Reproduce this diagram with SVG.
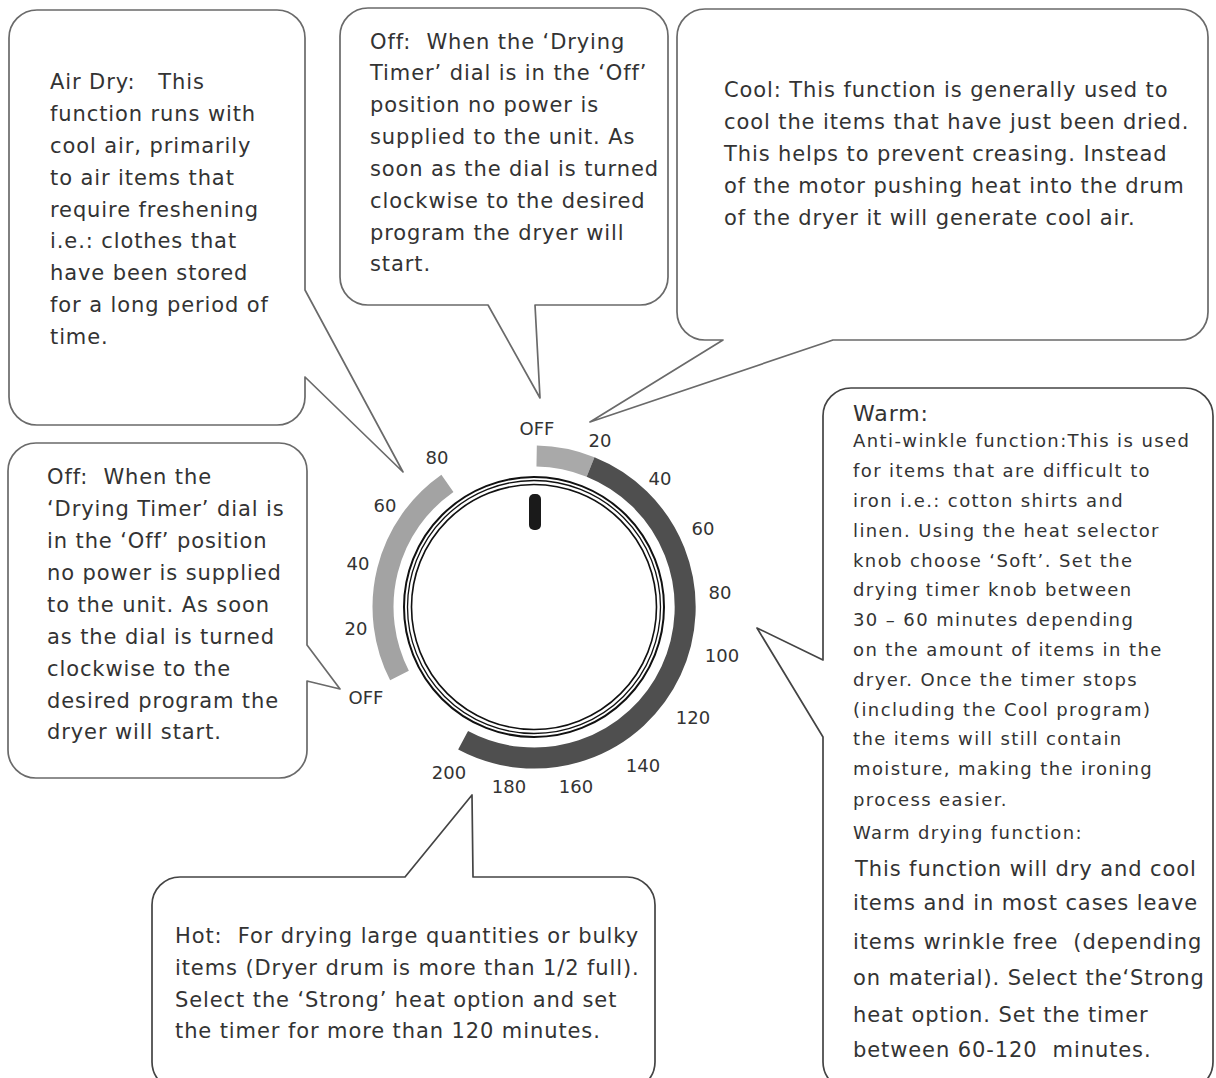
<svg xmlns="http://www.w3.org/2000/svg" width="1216" height="1078" viewBox="0 0 1216 1078">
<style>
.bubble{fill:#fff;stroke:#6a6a6a;stroke-width:1.7;stroke-linejoin:round}
.dark{stroke:#444}
.t{font-family:"DejaVu Sans","Liberation Sans",sans-serif;font-size:21px;letter-spacing:0.9px;fill:#333;white-space:pre}
.s{font-size:18px;letter-spacing:1.4px}
.n{font-family:"DejaVu Sans","Liberation Sans",sans-serif;font-size:18px;fill:#333;text-anchor:middle}
.ring{fill:none;stroke:#111}
.band{fill:none;stroke-width:21}
</style>
<rect width="1216" height="1078" fill="#fff"/>
<g id="connectors"/>
<g id="air-dry">
<path class="bubble" d="M37,10 H277 A28 28 0 0 1 305,38 V290 L403,472 L305,377 V397 A28 28 0 0 1 277,425 H37 A28 28 0 0 1 9,397 V38 A28 28 0 0 1 37,10 Z"/>
<text class="t" xml:space="preserve"><tspan x="50" y="89">Air Dry:   This</tspan><tspan x="50" y="121">function runs with</tspan><tspan x="50" y="153">cool air, primarily</tspan><tspan x="50" y="185">to air items that</tspan><tspan x="50" y="217">require freshening</tspan><tspan x="50" y="248">i.e.: clothes that</tspan><tspan x="50" y="280">have been stored</tspan><tspan x="50" y="312">for a long period of</tspan><tspan x="50" y="344">time.</tspan></text>
</g>
<g id="off-top">
<path class="bubble" d="M368,8 H640 A28 28 0 0 1 668,36 V277 A28 28 0 0 1 640,305 H535 L540,398 L488,305 H368 A28 28 0 0 1 340,277 V36 A28 28 0 0 1 368,8 Z"/>
<text class="t" xml:space="preserve"><tspan x="370" y="49">Off:  When the ‘Drying</tspan><tspan x="370" y="80">Timer’ dial is in the ‘Off’</tspan><tspan x="370" y="112">position no power is</tspan><tspan x="370" y="144">supplied to the unit. As</tspan><tspan x="370" y="176">soon as the dial is turned</tspan><tspan x="370" y="208">clockwise to the desired</tspan><tspan x="370" y="240">program the dryer will</tspan><tspan x="370" y="271">start.</tspan></text>
</g>
<g id="cool">
<path class="bubble" d="M705,9 H1180 A28 28 0 0 1 1208,37 V312 A28 28 0 0 1 1180,340 H833 L590,422 L723,340 H705 A28 28 0 0 1 677,312 V37 A28 28 0 0 1 705,9 Z"/>
<text class="t" xml:space="preserve"><tspan x="724" y="97">Cool: This function is generally used to</tspan><tspan x="724" y="129">cool the items that have just been dried.</tspan><tspan x="724" y="161">This helps to prevent creasing. Instead</tspan><tspan x="724" y="193">of the motor pushing heat into the drum</tspan><tspan x="724" y="225">of the dryer it will generate cool air.</tspan></text>
</g>
<g id="off-left">
<path class="bubble" d="M36,443 H279 A28 28 0 0 1 307,471 V645 L340,689 L307,681 V750 A28 28 0 0 1 279,778 H36 A28 28 0 0 1 8,750 V471 A28 28 0 0 1 36,443 Z"/>
<text class="t" xml:space="preserve"><tspan x="47" y="484">Off:  When the</tspan><tspan x="47" y="516">‘Drying Timer’ dial is</tspan><tspan x="47" y="548">in the ‘Off’ position</tspan><tspan x="47" y="580">no power is supplied</tspan><tspan x="47" y="612">to the unit. As soon</tspan><tspan x="47" y="644">as the dial is turned</tspan><tspan x="47" y="676">clockwise to the</tspan><tspan x="47" y="708">desired program the</tspan><tspan x="47" y="739">dryer will start.</tspan></text>
</g>
<g id="hot">
<path class="bubble dark" d="M180,877 H405 L472,795 L473,877 H627 A28 28 0 0 1 655,905 V1062 A28 28 0 0 1 627,1090 H180 A28 28 0 0 1 152,1062 V905 A28 28 0 0 1 180,877 Z"/>
<text class="t" xml:space="preserve"><tspan x="175" y="943">Hot:  For drying large quantities or bulky</tspan><tspan x="175" y="975">items (Dryer drum is more than 1/2 full).</tspan><tspan x="175" y="1007">Select the ‘Strong’ heat option and set</tspan><tspan x="175" y="1038">the timer for more than 120 minutes.</tspan></text>
</g>
<g id="warm">
<path class="bubble dark" d="M851,388 H1185 A28 28 0 0 1 1213,416 V1062 A28 28 0 0 1 1185,1090 H851 A28 28 0 0 1 823,1062 V737 L757,628 L823,660 V416 A28 28 0 0 1 851,388 Z"/>
<text class="t" style="font-size:22px"><tspan x="853" y="421">Warm:</tspan></text>
<text class="t s" xml:space="preserve"><tspan x="853" y="447">Anti-winkle function:This is used</tspan><tspan x="853" y="477">for items that are difficult to</tspan><tspan x="853" y="507">iron i.e.: cotton shirts and</tspan><tspan x="853" y="537">linen. Using the heat selector</tspan><tspan x="853" y="567">knob choose ‘Soft’. Set the</tspan><tspan x="853" y="596">drying timer knob between</tspan><tspan x="853" y="626">30 – 60 minutes depending</tspan><tspan x="853" y="656">on the amount of items in the</tspan><tspan x="853" y="686">dryer. Once the timer stops</tspan><tspan x="853" y="716">(including the Cool program)</tspan><tspan x="853" y="745">the items will still contain</tspan><tspan x="853" y="775">moisture, making the ironing</tspan><tspan x="853" y="806">process easier.</tspan><tspan x="853" y="839">Warm drying function:</tspan></text>
<text class="t" xml:space="preserve"><tspan x="855" y="876">This function will dry and cool</tspan><tspan x="853" y="910">items and in most cases leave</tspan><tspan x="853" y="949">items wrinkle free  (depending</tspan><tspan x="853" y="985">on material). Select the‘Strong</tspan><tspan x="853" y="1022">heat option. Set the timer</tspan><tspan x="853" y="1057">between 60-120  minutes.</tspan></text>
</g>
<g id="dial">
<path class="band" stroke="#a9a9a9" d="M536.64,456.02 A151 151 0 0 1 590.57,467.0"/>
<path class="band" stroke="#4f4f4f" d="M590.57,467.0 A151 151 0 1 1 463.1,740.3"/>
<path class="band" stroke="#a3a3a3" d="M399.5,675.6 A151 151 0 0 1 447.4,483.3"/>
<circle class="ring" cx="534" cy="607" r="130" stroke-width="2"/>
<circle class="ring" cx="534" cy="607" r="126.5" stroke-width="1.3"/>
<circle class="ring" cx="534" cy="607" r="122.5" stroke-width="1.6"/>
<rect x="529" y="494" width="12" height="36" rx="5" fill="#1a1a1a"/>
<text class="n" x="537" y="435">OFF</text>
<text class="n" x="600" y="447">20</text>
<text class="n" x="660" y="485">40</text>
<text class="n" x="703" y="535">60</text>
<text class="n" x="720" y="599">80</text>
<text class="n" x="722" y="662">100</text>
<text class="n" x="693" y="724">120</text>
<text class="n" x="643" y="772">140</text>
<text class="n" x="576" y="793">160</text>
<text class="n" x="509" y="793">180</text>
<text class="n" x="449" y="779">200</text>
<text class="n" x="366" y="704">OFF</text>
<text class="n" x="356" y="635">20</text>
<text class="n" x="358" y="570">40</text>
<text class="n" x="385" y="512">60</text>
<text class="n" x="437" y="464">80</text>
</g>
</svg>
